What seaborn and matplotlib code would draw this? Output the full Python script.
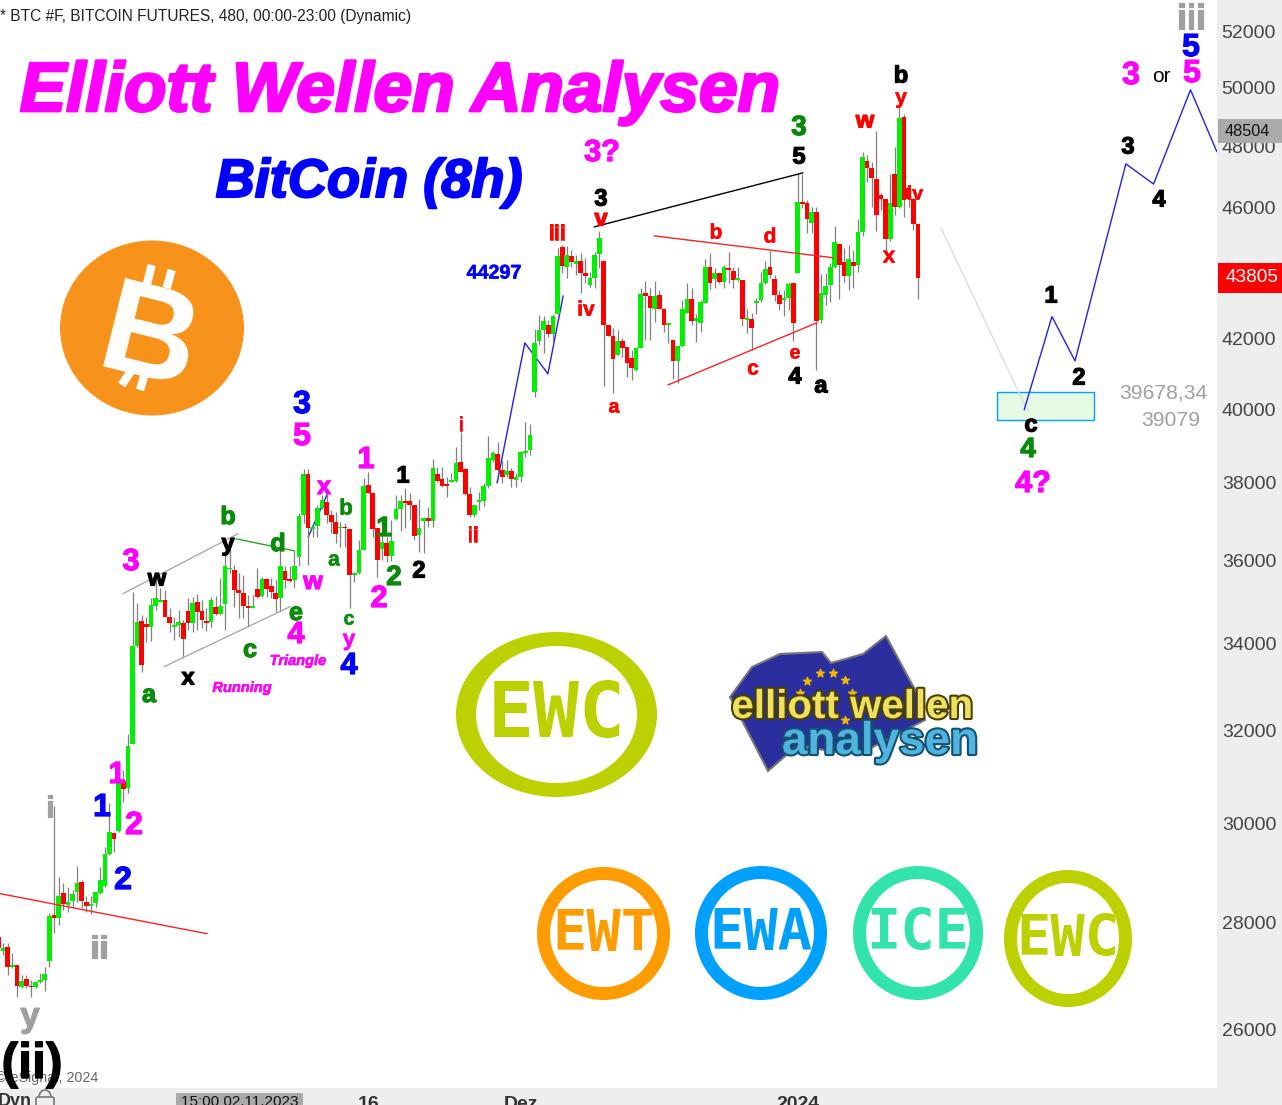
import matplotlib
matplotlib.use('Agg')
import matplotlib.pyplot as plt
import matplotlib.patheffects as pe
from matplotlib.patches import Ellipse, Polygon, Rectangle, FancyBboxPatch, Arc
import pandas as pd
import seaborn as sns

# 8h bars
opens = [27735,27470,27545,27165,27200,26790,26940,26810,26790,26880,
         26920,27280,28165,28105,28580,28360,28440,28600,28810,28420,
         28340,28400,28580,28730,29380,29810,29850,30900,30760,31710,
         33940,34540,34460,34390,34900,34990,35040,34630,34390,34440,
         34490,34780,34490,34990,34780,34540,34510,34870,34700,34950,
         35800,35780,35280,35210,34900,34850,35310,35140,35550,35380,
         35210,35090,35750,35550,35530,36100,37170,38240,36810,36890,
         37350,37510,37170,36990,36830,36860,36810,35650,35700,36280,
         37950,37740,36830,36300,36460,36130,37070,37330,37530,37530,
         37430,36650,37020,37090,37020,38240,38110,37980,38030,38050,
         38560,38380,37720,37170,37510,37530,37920,38620,38780,38350,
         38210,38320,38080,38160,38810,38890,40480,41940,42260,42410,
         42140,42740,44770,44150,44490,44240,44340,43970,43600,43810,
         44550,44340,42410,42080,41540,41940,41770,41450,41100,41740,
         43360,43270,42880,43300,42880,42410,41970,41360,41800,42770,
         43180,42530,42470,43060,44150,43780,43970,43690,44120,44030,
         43750,43750,42560,42590,43060,43150,43660,44150,43780,43300,
         43150,43210,43660,43970,46190,46160,45520,45870,42560,43300,
         43600,44150,44860,44310,43870,44310,44210,45230,47520,47290,
         46930,46410,46280,45020,47090,46030,48990,46640,46280,45490]
closes = [27526,27526,27165,27200,26810,26900,26810,26790,26880,26920,
          27030,28145,28105,28520,28380,28420,28560,28790,28440,28340,
          28380,28600,28850,29380,29830,29690,30900,30730,31670,33940,
          34510,33500,34390,34920,35090,35040,34630,34490,34440,34510,
          34110,34490,34970,34750,34560,34490,35040,34700,34900,35880,
          35830,35280,35210,34900,34850,34900,35110,35550,35310,35240,
          35070,35880,35530,35500,35880,37150,38240,36830,36860,37350,
          37560,37170,36990,36680,36860,36830,35650,35700,36280,37920,
          37740,36810,36030,36480,36130,36500,37330,37530,37480,37430,
          36630,36830,37090,37020,38400,38050,37920,37920,38080,38540,
          38300,37720,37170,37430,37560,37920,38670,38810,38350,38160,
          38320,38110,38160,38830,38860,39290,41880,42260,42530,42140,
          42680,44490,44180,44520,44310,44340,43970,43870,43810,44520,
          45050,42410,42080,41420,41940,41740,41310,41160,41740,43330,
          43270,42910,43270,42880,42410,42470,41360,41800,42880,43180,
          42530,42620,43090,44150,43660,43970,43690,44150,44060,43750,
          43810,42590,42620,42320,43120,43660,44090,43900,43300,43030,
          43210,43630,42470,46190,46120,45650,45870,42530,43360,43570,
          44150,44920,44210,43870,44400,44180,45230,47650,47290,46960,
          45770,46280,45020,46160,46030,48960,46250,46280,45490,43810]
highs = [27840,27620,27620,27430,27200,27010,27010,26920,26900,27050,
         27165,28200,30360,28910,28790,28710,28650,29120,28850,28520,
         28520,28600,29100,29520,30440,29810,31100,31140,31930,35240,
         34970,34680,34630,35090,35600,35330,35280,34830,34630,34800,
         34560,35090,35110,35190,35040,34850,35110,35140,35580,36280,
         36580,35900,35700,35650,35160,35160,35830,35600,35580,35580,
         35530,36280,35860,35860,36280,37220,38380,38380,36860,37430,
         37690,37690,37300,37250,36990,36960,36810,35730,36530,38130,
         38300,37770,36830,37040,36610,37040,37690,37690,37870,37740,
         37430,37590,37120,37380,38640,38430,38430,38160,38270,38970,
         39370,38400,37900,37430,37770,38000,39260,38860,39090,38620,
         38620,38400,38270,38860,39650,39590,42290,42710,42680,42560,
         42740,44740,44830,44800,44680,44520,44580,44430,44000,44610,
         45260,44340,42410,42320,42260,42030,41770,41680,41770,43510,
         43720,43510,43720,43450,42910,42470,41970,41830,43150,43660,
         43510,42740,43150,44400,44580,44120,43970,44210,44610,44150,
         44150,43750,42880,42770,43210,44000,44340,44650,43900,43450,
         43450,43690,43690,47090,47090,46250,46030,46030,43930,43970,
         44270,45420,44890,44740,44830,44680,45650,47820,47720,47490,
         48510,46480,46280,47090,47980,49470,49100,46730,46320,45520]
lows = [27450,27390,27010,27145,26590,26770,26770,26590,26770,26860,
        26700,27165,27810,27970,28260,28220,28320,28420,28300,28220,
        28180,28320,28560,28710,29360,29420,29830,30460,30650,31710,
        33920,33330,34040,34060,34800,34990,34630,34270,34080,34150,
        33660,34320,34270,34320,34370,34290,34390,34680,34680,34320,
        35700,34870,34610,34610,34390,34850,35090,35110,35110,35090,
        34750,34750,35330,35480,35330,35860,36960,35900,36600,36600,
        37330,36960,36710,36460,36360,36360,34850,35480,35680,36280,
        37740,36600,35600,36030,35960,36000,37040,36760,36830,37040,
        36530,36230,36200,36860,36860,38030,37900,37640,38030,38030,
        38300,37690,37120,37120,37300,37400,37870,38560,38270,38000,
        38160,37900,37900,38030,38700,38750,40340,41830,41590,42060,
        41880,42740,43970,43810,44150,43900,43360,43660,43540,43510,
        44120,40650,42080,40450,41540,41480,40900,40820,41080,41740,
        41970,41970,42500,42880,42200,41880,40850,40730,41770,42770,
        42410,41910,42200,43060,43480,43510,43660,43510,43660,43510,
        43720,42380,42170,41680,42740,43090,43630,43810,43120,42860,
        42680,42860,41940,43970,46000,45200,45200,41100,42470,43000,
        43090,44120,43180,43690,43450,43510,44000,45110,46830,46030,
        45260,45930,44520,44950,45770,46000,45710,46030,45290,43180]

y_ticks = [52000, 50000, 48000, 46000, 42000, 40000, 38000, 36000, 34000, 32000, 30000, 28000, 26000]
x_tick_bars = [80, 113, 173]
x_tick_labels = ['16', 'Dez', '2024']

# wave path and trend lines, (bar number, price)
path_bars = [222, 228, 233, 244, 250, 258, 263.7]
path_prices = [39980, 42650, 41360, 47420, 46760, 49920, 47820]
early_path_bars = [107.9, 113.9, 118.9, 122.2]
early_path_prices = [38000, 41880, 40990, 43270]
short_path_bars = [67, 71.1]
short_path_prices = [36600, 37690]
trend_lines = [
    ([0.3, 45.1], [28576, 27792], '#FF2020'),
    ([26.9, 51.8], [35188, 36681], '#AAAAAA'),
    ([35.8, 63.1], [33450, 34874], '#AAAAAA'),
    ([51.4, 63.9], [36555, 36254], '#22AA22'),
    ([128.9, 174.1], [45390, 47125], '#000000'),
    ([141.9, 180.6], [45108, 44429], '#FF2020'),
    ([144.9, 177.1], [40676, 42467], '#FF2020'),
    ([204, 222.8], [45358, 39925], '#DDDDDD'),
]
zone_bars = [216.1, 237.1]
zone_prices = [39700, 40480]

W, H = 1282, 1105
PANEL = '#EEEEEE'
MAGENTA = '#FF00FF'
GREEN = '#0A8A0A'
BLUE = '#0000FF'
RED = '#FF0000'
GREY = '#A0A0A0'
BLACK = '#000000'

sns.set_theme(style='white')
plt.rcParams['font.family'] = ['Liberation Sans', 'DejaVu Sans']

bars = pd.DataFrame({'open': opens, 'high': highs, 'low': lows, 'close': closes})
bars['bar'] = bars.index
bars['bottom'] = bars[['open', 'close']].min(axis=1)
bars['size'] = (bars['close'] - bars['open']).abs()
bars['color'] = ['#00F000' if c >= o else '#FF0000' for o, c in zip(opens, closes)]

fig = plt.figure(figsize=(W / 100, H / 100), dpi=100, facecolor=PANEL)
ax = fig.add_axes([0, 17 / H, 1217 / W, 1088 / H])
ax.set_facecolor('white')
ax.set_yscale('log')
ax.set_xlim(0.303, 263.73)
ax.set_ylim(24970, 53131)

for xs, ys, col in trend_lines:
    sns.lineplot(x=xs, y=ys, color=col, linewidth=1.0, sort=False, estimator=None, ax=ax, zorder=4)
for xs, ys in [(short_path_bars, short_path_prices), (early_path_bars, early_path_prices)]:
    sns.lineplot(x=xs, y=ys, color='#2222EE', linewidth=1.0, sort=False, estimator=None, ax=ax, zorder=1)
sns.lineplot(x=path_bars, y=path_prices, color='#2222EE', linewidth=1.0, sort=False, estimator=None, ax=ax, zorder=4)

ax.vlines(bars['bar'], bars['low'], bars['high'], color='#808080', linewidth=0.9, zorder=2)
ax.bar(bars['bar'], bars['size'], bottom=bars['bottom'], width=1.02, color=bars['color'], linewidth=0, zorder=3)

ax.add_patch(Rectangle((zone_bars[0], zone_prices[0]), zone_bars[1] - zone_bars[0], zone_prices[1] - zone_prices[0],
                       facecolor='#E4FAE4', edgecolor='#00A0FF', linewidth=1.0, zorder=1))

ax.set_yticks(y_ticks, labels=[str(v) for v in y_ticks])
ax.minorticks_off()
ax.yaxis.tick_right()
ax.tick_params(axis='y', length=0, pad=3.4, labelsize=14, labelcolor='#444444')
ax.set_xticks(x_tick_bars, labels=x_tick_labels)
ax.tick_params(axis='x', length=0, pad=5.5, labelsize=14, labelcolor='#333333')
for lab in ax.get_xticklabels():
    lab.set_fontweight('bold')
ax.set_xlabel('')
ax.set_ylabel('')
sns.despine(ax=ax, left=True, right=True, top=True, bottom=True)

# overlay in screen pixels for the drawn-on labels and logos
ov = fig.add_axes([0, 0, 1, 1], zorder=5)
ov.set_xlim(0, W)
ov.set_ylim(H, 0)
ov.axis('off')


def label(txt, x, y, color, size, weight='bold', style='normal', zorder=6, stroke=0.0, **kw):
    t = ov.text(x, y + 2, txt, color=color, fontsize=size, fontweight=weight, fontstyle=style,
                ha='center', va='center', zorder=zorder, **kw)
    if stroke:
        t.set_path_effects([pe.withStroke(linewidth=stroke, foreground=color)])
    return t


def ring(x0, x1, y0, y1, thick_x, thick_y, color):
    cx, cy = (x0 + x1) / 2, (y0 + y1) / 2
    ov.add_patch(Ellipse((cx, cy), x1 - x0, y1 - y0, color=color, lw=0))
    ov.add_patch(Ellipse((cx, cy), x1 - x0 - 2 * thick_x, y1 - y0 - 2 * thick_y, color='white', lw=0))
    return cx, cy


# price boxes on the axis
ov.add_patch(Rectangle((1218, 119), 64, 24, color='#AAAAAA', lw=0))
ov.text(1225, 131, '48504', color='#111111', fontsize=11.7, va='center')
ov.add_patch(Rectangle((1218, 263), 64, 30, color='#FF0000', lw=0))
ov.text(1226, 278, '43805', color='white', fontsize=13.7, va='center')

ov.text(0, 16, '* BTC #F, BITCOIN FUTURES, 480, 00:00-23:00 (Dynamic)', color='#222222', fontsize=11.2, va='center')
label('Elliott Wellen Analysen', 400, 91, MAGENTA, 50, style='italic', stroke=2.0)
label('BitCoin (8h)', 369, 181, BLUE, 39, style='italic', stroke=1.5)

wave_labels = [
    ('iii', 1191, 17, GREY, 25), ('5', 1191, 46, BLUE, 23), ('3', 1131, 74, MAGENTA, 23), ('5', 1192, 72, MAGENTA, 23),
    ('3', 1128, 145, BLACK, 17), ('4', 1159, 198, BLACK, 17), ('1', 1051, 294, BLACK, 17), ('2', 1079, 376, BLACK, 17),
    ('c', 1031, 423, BLACK, 17), ('4', 1028, 448, GREEN, 20), ('4?', 1033, 482, MAGENTA, 22),
    ('44297', 494, 271, BLUE, 14.2), ('3?', 602, 151, MAGENTA, 22), ('3', 601, 197, BLACK, 17), ('v', 601, 217, RED, 17),
    ('iii', 557, 232, RED, 15), ('iv', 586, 308, RED, 15), ('a', 614, 406, RED, 14), ('b', 716, 231, RED, 15),
    ('d', 770, 235, RED, 15), ('c', 753, 367, RED, 15), ('e', 795, 352, RED, 14), ('4', 795, 375, BLACK, 17),
    ('a', 821, 384, BLACK, 17), ('3', 799, 126, GREEN, 20), ('5', 799, 155, BLACK, 17), ('w', 865, 119, RED, 17),
    ('b', 901, 74, BLACK, 17), ('y', 901, 96, RED, 15), ('iv', 915, 193, RED, 14), ('x', 889, 255, RED, 16),
    ('i', 461, 424, RED, 14), ('ii', 473, 534, RED, 15), ('1', 403, 474, BLACK, 17), ('2', 419, 569, BLACK, 17),
    ('1', 366, 458, MAGENTA, 22), ('2', 379, 597, MAGENTA, 22), ('2', 394, 576, GREEN, 20), ('1', 384, 527, GREEN, 20),
    ('b', 346, 507, GREEN, 16), ('a', 334, 558, GREEN, 15), ('c', 349, 618, GREEN, 14), ('y', 349, 638, MAGENTA, 16),
    ('4', 349, 664, BLUE, 22), ('x', 324, 485, MAGENTA, 18), ('w', 313, 580, MAGENTA, 18), ('e', 296, 611, GREEN, 18),
    ('4', 296, 633, MAGENTA, 22), ('d', 278, 542, GREEN, 18), ('b', 228, 515, GREEN, 18), ('y', 228, 542, BLACK, 17),
    ('w', 157, 577, BLACK, 17), ('3', 131, 560, MAGENTA, 22), ('c', 250, 648, GREEN, 18), ('x', 188, 676, BLACK, 17),
    ('a', 149, 693, GREEN, 18), ('3', 302, 403, BLUE, 23), ('5', 302, 435, MAGENTA, 23), ('1', 117, 773, MAGENTA, 22),
    ('1', 102, 806, BLUE, 23), ('2', 134, 824, MAGENTA, 23), ('2', 123, 879, BLUE, 23), ('i', 50, 807, GREY, 22),
    ('ii', 99, 948, GREY, 23), ('y', 30, 1015, GREY, 25), ('(ii)', 32, 1063, BLACK, 36),
]
for txt, x, y, col, size in wave_labels:
    label(txt, x, y, col, size, stroke=0.9 if size > 16 else 0.4)

label('or', 1161, 75, BLACK, 15, weight='normal')
label('39678,34', 1163, 391, GREY, 15.2, weight='normal')
label('39079', 1171, 418, GREY, 15.2, weight='normal')
label('Triangle', 298, 659, MAGENTA, 10.5, style='italic', stroke=0.4)
label('Running', 242, 686, MAGENTA, 10.5, style='italic', stroke=0.4)
ov.text(98, 1078, '© eSignal, 2024', color='#666666', fontsize=10.3, ha='right', va='center', zorder=5)

# bitcoin coin
ov.add_patch(Ellipse((152, 328), 184, 175, color='#F7931A', lw=0))
for x0, y0, x1, y1 in [(151.7, 265, 146.7, 285), (171.7, 270, 166.7, 288), (131.7, 370, 121.7, 385), (145, 373, 140, 390)]:
    ov.plot([x0, x1], [y0, y1], color='white', lw=6, solid_capstyle='butt')
ov.text(148, 344, 'B', color='white', fontsize=95, fontweight='bold', rotation=-14, ha='center', va='center')

# EWC and friends
mono = ['DejaVu Sans Mono']
cx, cy = ring(456, 657, 632, 797, 20, 14, '#BDD000')
label('EWC', cx, cy, '#BDD000', 55, family=mono)
for name, x0, x1, y0, y1, col in [
    ('EWT', 537, 670, 867, 1000, '#FF9C00'),
    ('EWA', 695, 827, 866, 1000, '#00A0FF'),
    ('ICE', 853, 983, 866, 1000, '#33E3AC'),
    ('EWC', 1004, 1132, 870, 1007, '#BDD000'),
]:
    cx, cy = ring(x0, x1, y0, y1, 13, 13, col)
    label(name, cx, cy, col, 41, family=mono)

# flag logo
flag = [(730, 697), (752, 667), (780, 654), (822, 652), (831, 663), (863, 654), (886, 636),
        (920, 699), (925, 720), (863, 752), (834, 752), (798, 745), (768, 771)]
ov.add_patch(Polygon(flag, closed=True, facecolor='#2B2F9E', edgecolor='#777777', linewidth=1.5))
star_x = [807, 820, 833, 845, 852, 845, 800]
star_y = [681, 673, 673, 680, 693, 720, 693]
ov.scatter(star_x, star_y, marker='*', s=35, color='#F5B800', zorder=6)
label('elliott wellen', 852, 705, '#F0E060', 29, zorder=7)
ov.texts[-1].set_path_effects([pe.withStroke(linewidth=3, foreground='#4A4000')])
label('analysen', 880, 740, '#4FB4E0', 33, zorder=8)
ov.texts[-1].set_path_effects([pe.withStroke(linewidth=3, foreground='#14506F')])

# bottom bar bits
ov.text(-2, 1102, 'Dyn', color='#333333', fontsize=13, fontweight='bold', va='center')
ov.add_patch(FancyBboxPatch((36, 1097), 18, 11, boxstyle='round,pad=0,rounding_size=2', facecolor='none', edgecolor='#777777', lw=1.2))
ov.add_patch(Arc((45, 1097), 12, 14, theta1=180, theta2=360, color='#777777', lw=1.2))
ov.add_patch(Rectangle((176, 1093), 127, 12, color='#AAAAAA', lw=0))
ov.text(239.5, 1102, '15:00 02.11.2023', color='#111111', fontsize=11, ha='center', va='center')

fig.savefig('out.png', dpi=100)
